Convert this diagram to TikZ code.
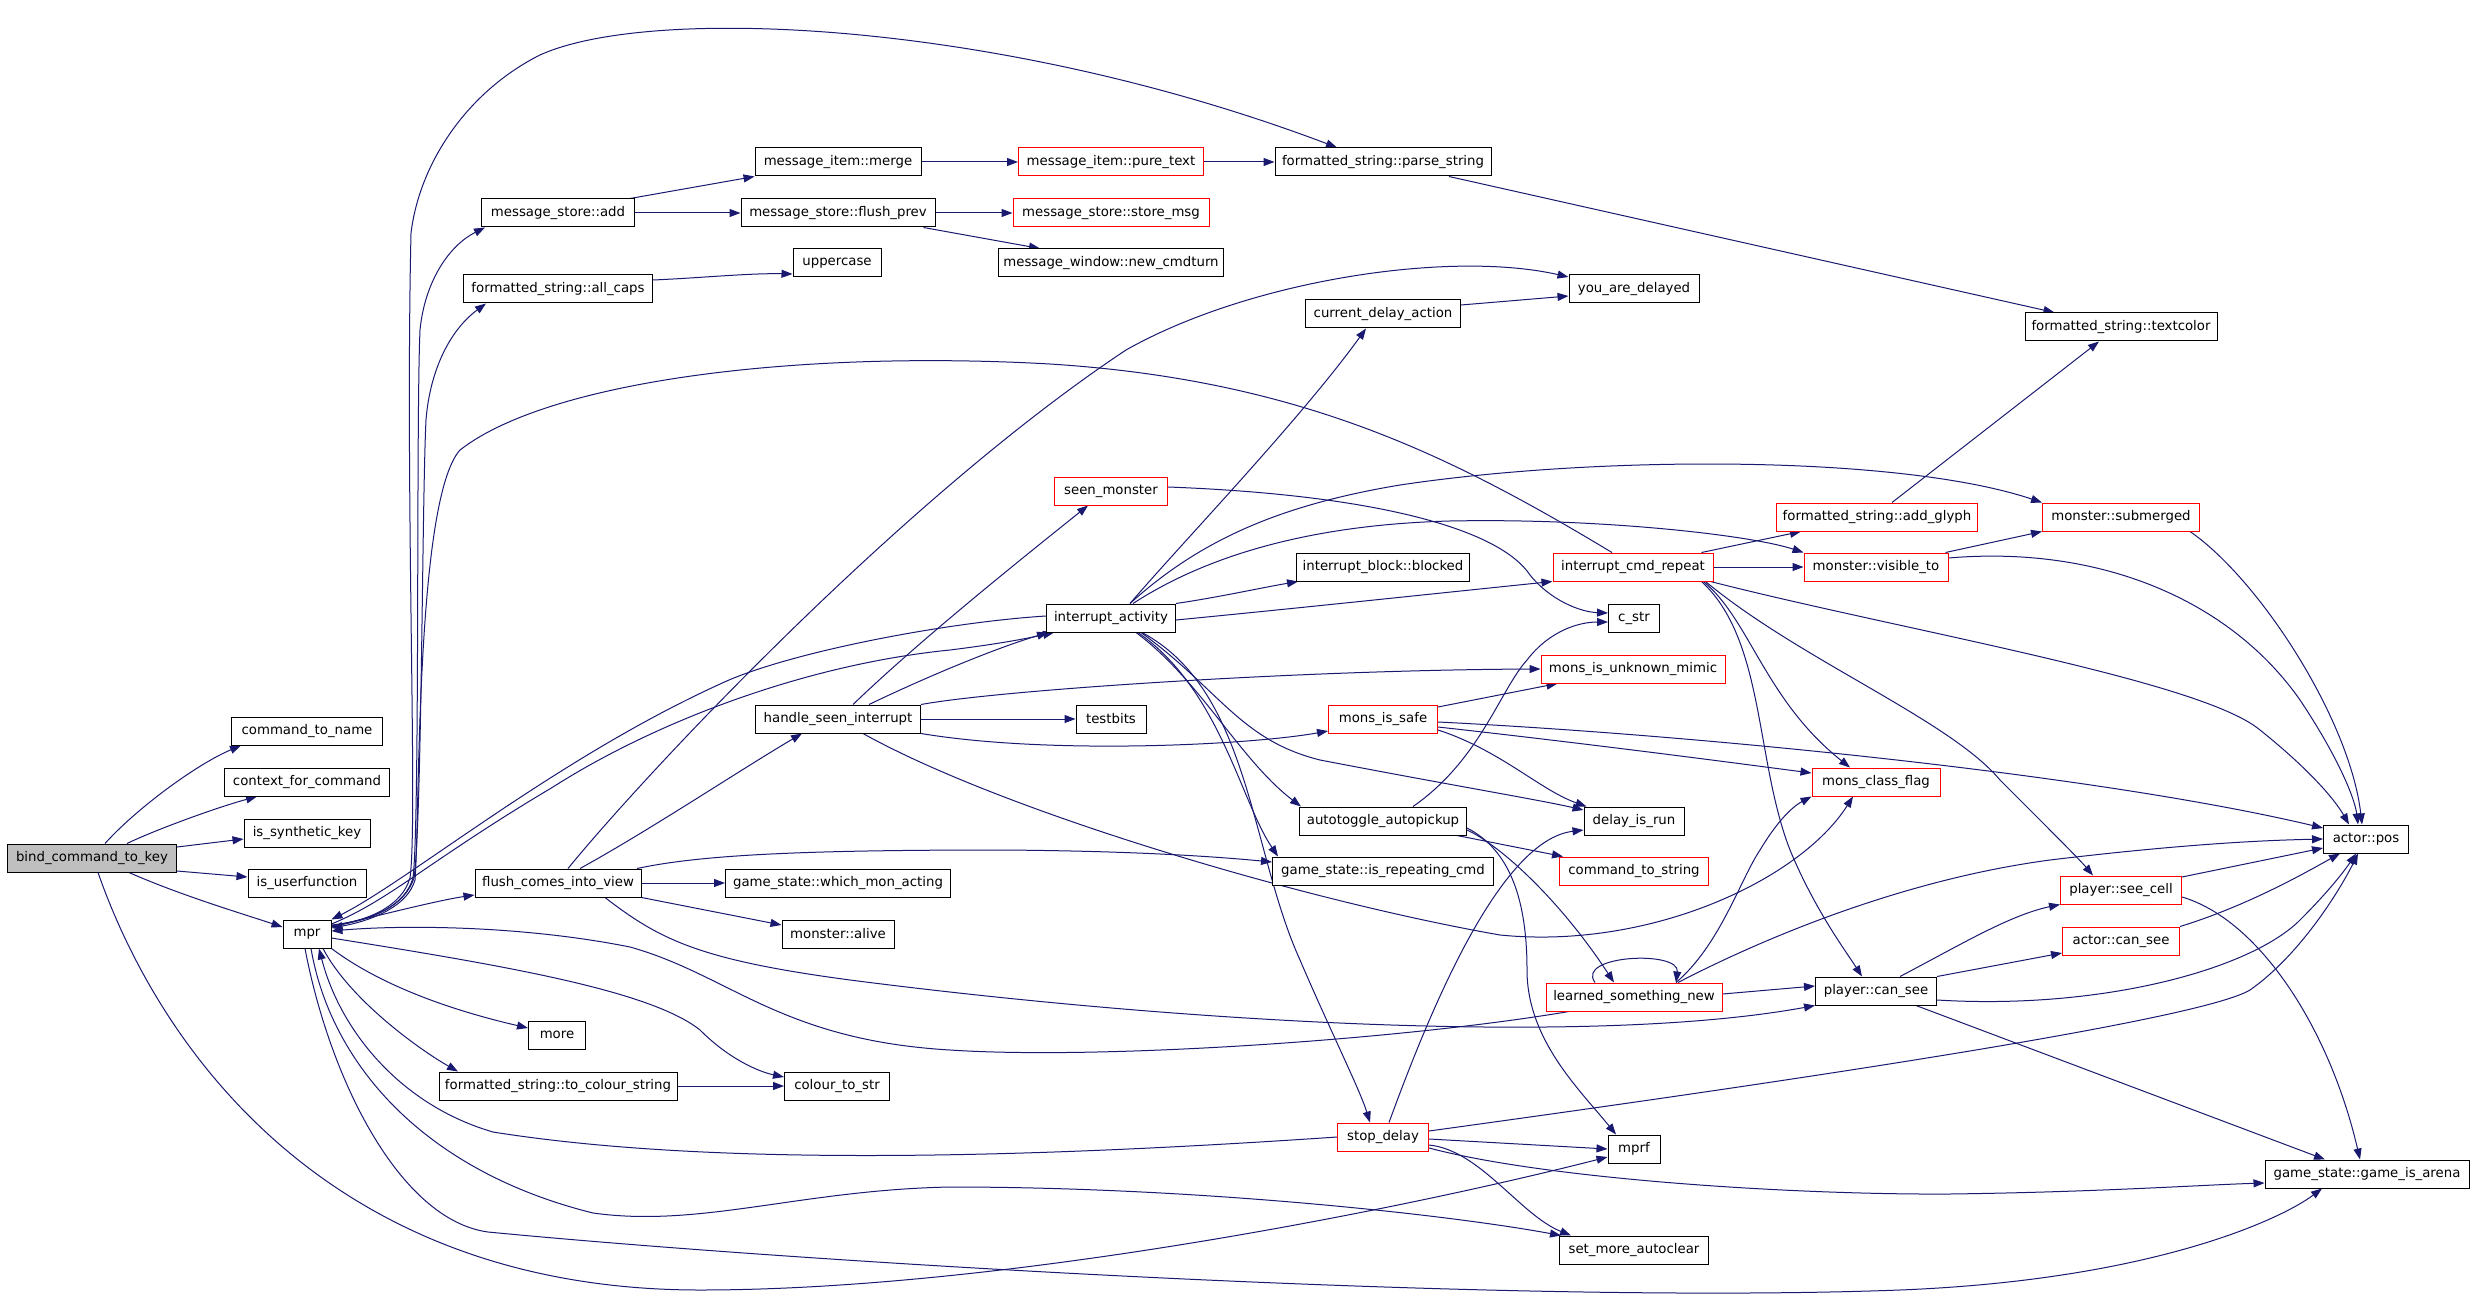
\documentclass[tikz,border=0pt]{standalone}
\usepackage{fontspec}
\setmainfont{DejaVu Sans}
\usetikzlibrary{arrows.meta}
\definecolor{edgec}{HTML}{191970}
\definecolor{nodered}{HTML}{FF0000}
\definecolor{rootgray}{HTML}{BFBFBF}
\pgfdeclarelayer{bg}
\pgfsetlayers{bg,main}
\begin{document}
\begin{tikzpicture}[x=1pt,y=-1pt,
  nd/.style={draw=black, fill=white, line width=1pt, minimum height=28pt, inner sep=0pt, font=\fontsize{13.3pt}{16pt}\selectfont},
  rd/.style={nd, draw=nodered},
  e/.style={draw=edgec, line width=1pt, -{Triangle[length=11pt,width=8pt]}}]
\useasboundingbox (0,0) rectangle (2475,1305);
% nodes
\node[nd,fill=rootgray,minimum width=169pt] (bind) at (92,858) {bind\_command\_to\_key};
\node[nd,minimum width=151pt] (cmdname) at (307,731) {command\_to\_name};
\node[nd,minimum width=165pt] (ctxcmd) at (307,782) {context\_for\_command};
\node[nd,minimum width=126pt] (synkey) at (307,833) {is\_synthetic\_key};
\node[nd,minimum width=118pt] (userfn) at (307,883) {is\_userfunction};
\node[nd,minimum width=48pt] (mpr) at (307,934) {mpr};
\node[nd,minimum width=153pt] (msadd) at (558,213) {message\_store::add};
\node[nd,minimum width=189pt] (allcaps) at (558,289) {formatted\_string::all\_caps};
\node[nd,minimum width=166pt] (flush) at (558,883) {flush\_comes\_into\_view};
\node[nd,minimum width=57pt] (more) at (557,1035) {more};
\node[nd,minimum width=238pt] (tocolour) at (558,1086) {formatted\_string::to\_colour\_string};
\node[nd,minimum width=166pt] (merge) at (838,162) {message\_item::merge};
\node[nd,minimum width=194pt] (flushprev) at (838,213) {message\_store::flush\_prev};
\node[nd,minimum width=88pt] (upper) at (837,263) {uppercase};
\node[nd,minimum width=165pt] (handle) at (838,719) {handle\_seen\_interrupt};
\node[nd,minimum width=225pt] (whichmon) at (838,883) {game\_state::which\_mon\_acting};
\node[nd,minimum width=112pt] (alive) at (838,934) {monster::alive};
\node[nd,minimum width=105pt] (colourstr) at (837,1086) {colour\_to\_str};
\node[rd,minimum width=185pt] (puretext) at (1111,162) {message\_item::pure\_text};
\node[rd,minimum width=196pt] (storemsg) at (1111,213) {message\_store::store\_msg};
\node[nd,minimum width=225pt] (newcmd) at (1111,263) {message\_window::new\_cmdturn};
\node[rd,minimum width=113pt] (seen) at (1111,491) {seen\_monster};
\node[nd,minimum width=129pt] (intact) at (1111,618) {interrupt\_activity};
\node[nd,minimum width=70pt] (testbits) at (1111,719) {testbits};
\node[nd,minimum width=216pt] (parse) at (1383,162) {formatted\_string::parse\_string};
\node[nd,minimum width=155pt] (curdelay) at (1383,314) {current\_delay\_action};
\node[nd,minimum width=173pt] (blocked) at (1383,567) {interrupt\_block::blocked};
\node[rd,minimum width=109pt] (safe) at (1383,719) {mons\_is\_safe};
\node[nd,minimum width=167pt] (autopick) at (1383,821) {autotoggle\_autopickup};
\node[nd,minimum width=221pt] (repeating) at (1383,871) {game\_state::is\_repeating\_cmd};
\node[rd,minimum width=91pt] (stopdelay) at (1383,1137) {stop\_delay};
\node[nd,minimum width=130pt] (delayed) at (1634,289) {you\_are\_delayed};
\node[rd,minimum width=160pt] (cmdrepeat) at (1633,567) {interrupt\_cmd\_repeat};
\node[nd,minimum width=51pt] (cstr) at (1634,618) {c\_str};
\node[rd,minimum width=184pt] (mimic) at (1633,669) {mons\_is\_unknown\_mimic};
\node[nd,minimum width=100pt] (delayrun) at (1634,821) {delay\_is\_run};
\node[rd,minimum width=149pt] (cmdstr) at (1634,871) {command\_to\_string};
\node[rd,minimum width=176pt] (learned) at (1634,997) {learned\_something\_new};
\node[nd,minimum width=52pt] (mprf) at (1634,1149) {mprf};
\node[nd,minimum width=149pt] (autoclear) at (1634,1250) {set\_more\_autoclear};
\node[rd,minimum width=201pt] (addglyph) at (1877,517) {formatted\_string::add\_glyph};
\node[rd,minimum width=144pt] (visible) at (1876,567) {monster::visible\_to};
\node[rd,minimum width=128pt] (classflag) at (1876,782) {mons\_class\_flag};
\node[nd,minimum width=121pt] (pcansee) at (1876,991) {player::can\_see};
\node[nd,minimum width=192pt] (textcolor) at (2121,327) {formatted\_string::textcolor};
\node[rd,minimum width=157pt] (submerged) at (2121,517) {monster::submerged};
\node[rd,minimum width=121pt] (seecell) at (2121,890) {player::see\_cell};
\node[rd,minimum width=117pt] (acansee) at (2121,941) {actor::can\_see};
\node[nd,minimum width=85pt] (pos) at (2366,839) {actor::pos};
\node[nd,minimum width=204pt] (arena) at (2367,1174) {game\_state::game\_is\_arena};
% edges
\begin{pgfonlayer}{bg}
\fill[white] (0,0) rectangle (2475,1305);
\draw[e] ([xshift=13pt]bind.north) .. controls (135,810) and (195,765) .. ([xshift=-66pt]cmdname.south);
\draw[e] ([xshift=35pt]bind.north) .. controls (155,830) and (215,808) .. ([xshift=-50pt]ctxcmd.south);
\draw[e] ([yshift=11pt]bind.east) -- ([yshift=-6pt]synkey.west);
\draw[e] ([yshift=-13pt]bind.east) -- ([yshift=6pt]userfn.west);
\draw[e] ([xshift=37pt]bind.south) .. controls (180,895) and (240,913) .. ([yshift=7pt]mpr.west);
\draw[e] ([xshift=6pt]bind.south) .. controls (160,1050) and (330,1290) .. (700,1290) .. controls (1000,1290) and (1400,1210) .. ([yshift=-8pt]mprf.west);
\draw[e] ([xshift=-2pt]mpr.south) .. controls (330,1080) and (400,1220) .. (488,1232) .. controls (800,1262) and (1500,1305) .. (1900,1290) .. controls (2150,1280) and (2280,1220) .. ([xshift=-45pt]arena.south);
\draw[e] (stopdelay.west) .. controls (1000,1160) and (700,1165) .. (493,1132) .. controls (400,1105) and (340,1030) .. ([xshift=12pt]mpr.south);
\draw[e] ([xshift=4pt]mpr.south) .. controls (330,1060) and (420,1170) .. (593,1213) .. controls (700,1228) and (800,1190) .. (950,1187) .. controls (1200,1187) and (1450,1215) .. ([xshift=2pt]autoclear.north west);
\draw[e] (mpr.south east) .. controls (380,985) and (450,1010) .. ([yshift=7pt]more.west);
\draw[e] ([xshift=16pt]mpr.south) .. controls (350,1000) and (420,1050) .. ([xshift=-100pt]tocolour.north);
\draw[e] ([yshift=-4pt]mpr.east) .. controls (500,965) and (650,990) .. (700,1030) .. controls (730,1060) and (760,1072) .. ([yshift=9pt]colourstr.west);
\draw[e] (tocolour.east) -- (colourstr.west);
\draw[e] ([yshift=7pt]mpr.east) .. controls (380,915) and (440,900) .. ([yshift=-12pt]flush.west);
\draw[e] ([yshift=10pt]mpr.east) .. controls (390,900) and (430,860) .. (553,787) .. controls (650,725) and (800,665) .. (950,650) .. controls (990,645) and (1020,640) .. ([xshift=8pt]intact.south west);
\draw[e] ([yshift=2pt]intact.west) .. controls (950,622) and (800,650) .. (729,680) .. controls (560,755) and (410,880) .. (mpr.north east);
\draw[e] ([yshift=8pt]mpr.east) .. controls (375,920) and (405,905) .. (413,878) .. controls (420,820) and (416,420) .. (420,330) .. controls (425,280) and (450,245) .. ([xshift=4pt]msadd.south west);
\draw[e] ([yshift=9pt]mpr.east) .. controls (375,920) and (405,905) .. (414,878) .. controls (422,820) and (422,500) .. (426,420) .. controls (430,370) and (450,330) .. ([xshift=23pt]allcaps.south west);
\draw[e] ([yshift=8pt]mpr.east) .. controls (372,920) and (402,905) .. (410,878) .. controls (418,820) and (405,500) .. (411,233) .. controls (420,160) and (470,90) .. (540,55) .. controls (650,5) and (1000,20) .. ([xshift=-46pt]parse.north);
\draw[e] ([xshift=-21pt]cmdrepeat.north) .. controls (1450,455) and (1300,380) .. (1050,364) .. controls (800,350) and (550,380) .. (460,450) .. controls (415,500) and (420,820) .. (415,880) .. controls (408,905) and (375,920) .. ([yshift=6pt]mpr.east);
\draw[e] ([xshift=-65pt]learned.south) .. controls (1400,1040) and (1100,1060) .. (950,1050) .. controls (780,1040) and (730,975) .. (630,947) .. controls (520,925) and (400,925) .. ([yshift=3pt]mpr.east);
\draw[e] ([xshift=22pt]flush.north) .. controls (650,830) and (740,770) .. ([xshift=-36pt]handle.south);
\draw[e] (flush.east) -- (whichmon.west);
\draw[e] (flush.south east) -- ([yshift=9pt]alive.west);
\draw[e] ([xshift=79pt]flush.north) .. controls (700,855) and (800,850) .. (1000,850) .. controls (1150,851) and (1230,858) .. ([yshift=9pt]repeating.west);
\draw[e] ([xshift=10pt]flush.north) .. controls (640,780) and (900,500) .. (1126,350) .. controls (1250,280) and (1450,250) .. ([yshift=12pt]delayed.west);
\draw[e] ([xshift=15pt]handle.north) .. controls (920,640) and (1020,560) .. ([xshift=-23pt]seen.south);
\draw[e] ([xshift=31pt]handle.north) .. controls (920,680) and (990,650) .. ([xshift=2pt]intact.south west);
\draw[e] (handle.east) -- (testbits.west);
\draw[e] (handle.north east) .. controls (1000,690) and (1300,670) .. (mimic.west);
\draw[e] (handle.south east) .. controls (1050,755) and (1250,745) .. ([yshift=-12pt]safe.west);
\draw[e] ([xshift=25pt]handle.south) .. controls (1000,810) and (1300,900) .. (1500,935) .. controls (1650,950) and (1800,880) .. ([xshift=-23pt]classflag.south);
\draw[e] ([yshift=4pt]seen.east) .. controls (1380,495) and (1500,530) .. (1530,575) .. controls (1550,600) and (1580,612) .. ([yshift=5pt]cstr.west);
\draw[e] ([xshift=19pt]intact.north) .. controls (1180,545) and (1300,420) .. ([xshift=-17pt]curdelay.south);
\draw[e] (intact.north east) .. controls (1220,597) and (1260,588) .. ([xshift=2pt]blocked.south west);
\draw[e] ([yshift=-2pt]intact.east) .. controls (1300,608) and (1450,592) .. (cmdrepeat.south west);
\draw[e] ([xshift=19pt]intact.north) .. controls (1200,540) and (1280,505) .. (1400,485) .. controls (1600,455) and (1900,455) .. (submerged.north west);
\draw[e] ([xshift=22pt]intact.north) .. controls (1200,560) and (1300,525) .. (1450,521) .. controls (1600,518) and (1750,535) .. (visible.north west);
\draw[e] ([xshift=25pt]intact.south) .. controls (1200,680) and (1240,760) .. ([xshift=2pt]autopick.north west);
\draw[e] ([xshift=27pt]intact.south) .. controls (1220,690) and (1240,800) .. ([xshift=6pt]repeating.north west);
\draw[e] ([xshift=30pt]intact.south) .. controls (1220,690) and (1240,740) .. (1320,760) .. controls (1450,785) and (1540,800) .. ([yshift=11pt]delayrun.west);
\draw[e] ([xshift=31pt]intact.south) .. controls (1250,690) and (1250,850) .. (1300,960) .. controls (1330,1030) and (1360,1090) .. ([xshift=-13pt]stopdelay.north);
\draw[e] ([yshift=9pt]curdelay.east) -- ([yshift=-7pt]delayed.west);
\draw[e] ([yshift=12pt]safe.east) -- ([xshift=17pt]mimic.south west);
\draw[e] ([yshift=-3pt]safe.east) .. controls (1700,735) and (2100,775) .. ([yshift=11pt]pos.west);
\draw[e] ([yshift=-8pt]safe.east) .. controls (1600,745) and (1750,765) .. ([yshift=9pt]classflag.west);
\draw[e] ([yshift=-11pt]safe.east) .. controls (1500,750) and (1540,790) .. ([xshift=3pt]delayrun.north west);
\draw[e] ([xshift=30pt]autopick.north) .. controls (1480,760) and (1500,690) .. (1527,660) .. controls (1550,630) and (1580,622) .. ([yshift=-4pt]cstr.west);
\draw[e] ([xshift=-10pt]autopick.south east) -- ([xshift=4pt]cmdstr.north west);
\draw[e] ([yshift=-9pt]autopick.east) .. controls (1500,845) and (1560,900) .. ([xshift=-20pt]learned.north);
\draw[e] ([yshift=-7pt]autopick.east) .. controls (1510,850) and (1527,900) .. (1527,970) .. controls (1527,1040) and (1580,1090) .. ([xshift=-18pt]mprf.north);
\draw[e] ([xshift=6pt]stopdelay.north) .. controls (1430,1010) and (1500,840) .. ([yshift=-9pt]delayrun.west);
\draw[e] ([yshift=-2pt]stopdelay.east) -- (mprf.west);
\draw[e] ([yshift=6pt]stopdelay.east) .. controls (1800,1080) and (2200,1020) .. (2250,990) .. controls (2300,955) and (2340,890) .. ([xshift=-8pt]pos.south);
\draw[e] ([yshift=-8pt]stopdelay.east) .. controls (1480,1150) and (1520,1215) .. ([xshift=12pt]autoclear.north west);
\draw[e] ([yshift=-11pt]stopdelay.east) .. controls (1550,1180) and (1800,1195) .. (1950,1194) .. controls (2100,1192) and (2200,1185) .. ([yshift=-9pt]arena.west);
\draw[e] ([xshift=-12pt]cmdrepeat.north east) -- ([xshift=25pt]addglyph.south west);
\draw[e] (cmdrepeat.east) -- (visible.west);
\draw[e] ([xshift=-10pt]cmdrepeat.south east) .. controls (1750,620) and (1765,700) .. ([xshift=-26pt]classflag.north);
\draw[e] ([xshift=-12pt]cmdrepeat.south east) .. controls (1765,640) and (1755,760) .. (1790,850) .. controls (1815,910) and (1845,950) .. ([xshift=-14pt]pcansee.north);
\draw[e] ([xshift=-8pt]cmdrepeat.south east) .. controls (1800,660) and (1950,720) .. (2000,780) .. controls (2050,830) and (2080,860) .. ([xshift=-28pt]seecell.north);
\draw[e] ([xshift=-3pt]cmdrepeat.south east) .. controls (1900,630) and (2200,680) .. (2260,730) .. controls (2310,770) and (2335,800) .. ([xshift=-17pt]pos.north);
\draw[e] ([xshift=15pt]addglyph.north) -- ([xshift=-22pt]textcolor.south);
\draw[e] ([xshift=66pt]parse.south) -- ([xshift=30pt]textcolor.north west);
\draw[e] ([xshift=-3pt]visible.north east) -- (submerged.south west);
\draw[e] ([yshift=9pt]visible.east) .. controls (2100,545) and (2230,600) .. (2300,700) .. controls (2340,760) and (2355,800) .. ([xshift=-8pt]pos.north);
\draw[e] ([xshift=-10pt]submerged.south east) .. controls (2260,580) and (2350,720) .. ([xshift=-4pt]pos.north);
\draw[e] ([yshift=13pt]seecell.east) -- ([yshift=-9pt]pos.west);
\draw[e] ([yshift=-7pt]seecell.east) .. controls (2260,920) and (2330,1030) .. ([xshift=-7pt]arena.north);
\draw[e] (acansee.north east) .. controls (2250,905) and (2310,870) .. ([xshift=-26pt]pos.south);
\draw[e] ([xshift=24pt]pcansee.north) .. controls (1960,945) and (2010,915) .. (seecell.south west);
\draw[e] (pcansee.north east) -- ([yshift=-12pt]acansee.west);
\draw[e] ([yshift=-9pt]pcansee.east) .. controls (2100,1010) and (2250,970) .. (2300,920) .. controls (2330,890) and (2345,870) .. ([xshift=-10pt]pos.south);
\draw[e] ([xshift=40pt]pcansee.south) -- ([xshift=-42pt]arena.north);
\draw[e] ([xshift=-39pt]learned.north) .. controls (1575,955) and (1680,950) .. ([xshift=42pt]learned.north);
\draw[e] ([xshift=42pt]learned.north) .. controls (1720,945) and (1740,880) .. (1760,850) .. controls (1775,825) and (1790,808) .. (classflag.south west);
\draw[e] ([xshift=44pt]learned.north) .. controls (1760,940) and (1900,880) .. (2050,860) .. controls (2200,842) and (2280,840) .. (pos.west);
\draw[e] ([yshift=3pt]learned.east) -- ([yshift=5pt]pcansee.west);
\draw[e] ([xshift=47pt]flush.south) .. controls (660,940) and (700,960) .. (850,980) .. controls (1200,1025) and (1600,1045) .. (pcansee.south west);
\draw[e] ([xshift=-5pt]msadd.north east) -- (merge.south west);
\draw[e] (msadd.east) -- (flushprev.west);
\draw[e] (merge.east) -- (puretext.west);
\draw[e] (puretext.east) -- (parse.west);
\draw[e] (flushprev.east) -- (storemsg.west);
\draw[e] ([xshift=-12pt]flushprev.south east) -- ([xshift=-71pt]newcmd.north);
\draw[e] ([yshift=9pt]allcaps.east) .. controls (700,278) and (750,273) .. ([yshift=-11pt]upper.west);
\end{pgfonlayer}
\end{tikzpicture}
\end{document}
